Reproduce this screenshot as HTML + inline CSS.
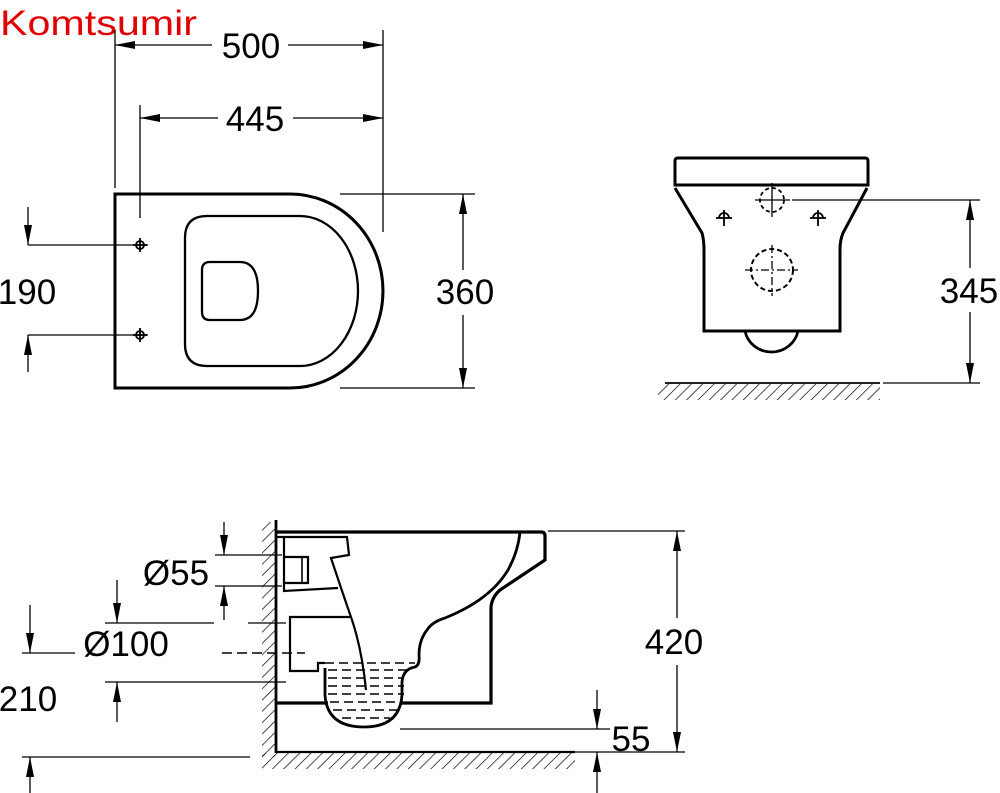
<!DOCTYPE html>
<html><head><meta charset="utf-8"><style>
html,body{margin:0;padding:0;background:#fff;}
svg{display:block;}
text{font-family:"Liberation Sans",Arial,sans-serif;}
</style></head><body>
<svg width="1000" height="793" viewBox="0 0 1000 793" xmlns="http://www.w3.org/2000/svg">
<defs>
<marker id="a" viewBox="0 0 20 8" refX="20" refY="4" markerWidth="20" markerHeight="8" markerUnits="userSpaceOnUse" orient="auto-start-reverse">
<path d="M0,0 L20,4 L0,8 Z" fill="#000"/></marker>
<pattern id="h" width="8" height="8" patternUnits="userSpaceOnUse" patternTransform="rotate(45)">
<line x1="0" y1="0" x2="0" y2="8" stroke="#000" stroke-width="1.4"/></pattern>
</defs>
<text x="0" y="35" font-size="35" fill="#e00000" textLength="197" lengthAdjust="spacingAndGlyphs">Komtsumir</text>

<!-- TOP VIEW -->
<g fill="none" stroke="#000">
<path d="M115,194 H290 A93,97 0 0 1 290,388 H115 Z" stroke-width="3"/>
<path d="M207,216 H300 A58,75 0 0 1 300,366 H207 Q185,366 185,344 V238 Q185,216 207,216 Z" stroke-width="2.3"/>
<path d="M210,262 H240 Q258,262 258,291 Q258,320 240,320 H210 Q202,320 202,312 V270 Q202,262 210,262 Z" stroke-width="2.3"/>
<g stroke-width="1.3">
<line x1="115" y1="30" x2="115" y2="188"/><line x1="383" y1="30" x2="383" y2="232"/>
<line x1="140" y1="105" x2="140" y2="218"/>
<line x1="28" y1="245" x2="148" y2="245"/><line x1="28" y1="335" x2="148" y2="335"/>
<line x1="340" y1="194" x2="475" y2="194"/><line x1="340" y1="388" x2="475" y2="388"/>
<line x1="115" y1="45" x2="212" y2="45" marker-start="url(#a)"/><line x1="288" y1="45" x2="383" y2="45" marker-end="url(#a)"/>
<line x1="140" y1="118" x2="218" y2="118" marker-start="url(#a)"/><line x1="293" y1="118" x2="383" y2="118" marker-end="url(#a)"/>
<line x1="28" y1="207" x2="28" y2="245" marker-end="url(#a)"/><line x1="28" y1="372" x2="28" y2="335" marker-end="url(#a)"/>
<line x1="463" y1="194" x2="463" y2="270" marker-start="url(#a)"/><line x1="463" y1="315" x2="463" y2="388" marker-end="url(#a)"/>
</g>
<g stroke-width="1.8"><circle cx="140" cy="245" r="4"/><line x1="133" y1="245" x2="147" y2="245"/><line x1="140" y1="238" x2="140" y2="252"/>
<circle cx="140" cy="335" r="4"/><line x1="133" y1="335" x2="147" y2="335"/><line x1="140" y1="328" x2="140" y2="342"/></g>
</g>
<text x="251" y="58" font-size="35" text-anchor="middle">500</text>
<text x="255" y="131" font-size="35" text-anchor="middle">445</text>
<text x="27" y="304" font-size="35" text-anchor="middle">190</text>
<text x="465" y="304" font-size="35" text-anchor="middle">360</text>

<!-- FRONT VIEW -->
<g fill="none" stroke="#000">
<path d="M678,158 H865 Q868,158 868,161 V185 H675 V161 Q675,158 678,158 Z" stroke-width="3"/>
<path d="M675,188 L702,233 Q704,240 704,250 V331 H840 V250 Q840,240 843,233 L867,188" stroke-width="3"/>
<path d="M745,331 A27,26 0 0 0 798,331" stroke-width="2.8"/>
<circle cx="772" cy="200" r="12" stroke-width="1.8" stroke-dasharray="4,3"/>
<circle cx="772" cy="270" r="21" stroke-width="2" stroke-dasharray="5,3"/>
<g stroke-width="1.3">
<line x1="755" y1="200" x2="790" y2="200"/><line x1="772" y1="183" x2="772" y2="217"/>
<line x1="745" y1="270" x2="798" y2="270" stroke-dasharray="8,3,2,3"/><line x1="772" y1="245" x2="772" y2="296" stroke-dasharray="8,3,2,3"/>
<line x1="792" y1="200" x2="980" y2="200"/><line x1="883" y1="383" x2="980" y2="383"/>
<line x1="970" y1="200" x2="970" y2="268" marker-start="url(#a)"/><line x1="970" y1="312" x2="970" y2="383" marker-end="url(#a)"/>
</g>
<g stroke-width="1.8">
<path d="M719,218 A5,5 0 0 1 729,218"/><line x1="716" y1="218" x2="732" y2="218"/><line x1="724" y1="210" x2="724" y2="226"/>
<path d="M813,218 A5,5 0 0 1 823,218"/><line x1="810" y1="218" x2="826" y2="218"/><line x1="818" y1="210" x2="818" y2="226"/>
</g>
<line x1="665" y1="383" x2="880" y2="383" stroke-width="1.8"/>
</g>
<rect x="658" y="384" width="222" height="16" fill="url(#h)"/>
<text x="969" y="303" font-size="35" text-anchor="middle">345</text>

<!-- SIDE VIEW -->
<rect x="262" y="522" width="13" height="235" fill="url(#h)"/>
<rect x="262" y="753" width="313" height="16" fill="url(#h)"/>
<g fill="none" stroke="#000">
<line x1="276" y1="520" x2="276" y2="753" stroke-width="2.8"/>
<line x1="276" y1="752" x2="575" y2="752" stroke-width="2.2"/>
<path d="M276,532 H541 Q545,532 545,536 V560 L500,590 Q492,597 491,607 V703 H400" stroke-width="3.2"/>
<path d="M328,703 H276" stroke-width="3.2"/>
<path d="M325,668 V695 Q327,727 364,727 Q400,727 402,695 V682 Q403,669 415,667 Q420,665 419,655 Q419,640 427,630 Q432,622 445,618 Q490,600 508,570 Q518,552 520,532" stroke-width="2.8"/>
<path d="M284,537 V591 L338,588" stroke-width="2.2"/>
<path d="M276,537 H284" stroke-width="2.2"/>
<path d="M284,537 H347 L349,555 L331,558 Q345,600 352,620 Q362,650 366,690" stroke-width="2.2"/>
<path d="M285,557 H308 V583 H285" stroke-width="2.2"/>
<line x1="302" y1="558" x2="302" y2="582" stroke-width="1.6"/>
<path d="M350,617 H290 V671 H318 V663 H325" stroke-width="2.2"/>
<g stroke-width="1.4" stroke-dasharray="9,5">
<line x1="325" y1="663" x2="415" y2="663"/><line x1="328" y1="670" x2="410" y2="670"/>
<line x1="328" y1="678" x2="404" y2="678"/><line x1="328" y1="686" x2="404" y2="686"/>
<line x1="328" y1="694" x2="404" y2="694"/><line x1="330" y1="702" x2="402" y2="702"/>
<line x1="333" y1="710" x2="398" y2="710"/><line x1="342" y1="718" x2="390" y2="718"/>
<line x1="222" y1="653" x2="305" y2="653" stroke-dasharray="10,5"/>
</g>
<g stroke-width="1.3">
<line x1="215" y1="555" x2="282" y2="555"/><line x1="215" y1="586" x2="282" y2="586"/>
<line x1="224" y1="522" x2="224" y2="555" marker-end="url(#a)"/><line x1="224" y1="620" x2="224" y2="586" marker-end="url(#a)"/>
<line x1="105" y1="623" x2="214" y2="623"/><line x1="248" y1="623" x2="286" y2="623"/>
<line x1="105" y1="682" x2="286" y2="682"/>
<line x1="117" y1="580" x2="117" y2="623" marker-end="url(#a)"/><line x1="117" y1="722" x2="117" y2="682" marker-end="url(#a)"/>
<line x1="22" y1="653" x2="75" y2="653"/>
<line x1="30" y1="605" x2="30" y2="653" marker-end="url(#a)"/>
<line x1="22" y1="757" x2="250" y2="757"/>
<line x1="30" y1="793" x2="30" y2="757" marker-end="url(#a)"/>
<line x1="548" y1="531" x2="685" y2="531"/><line x1="575" y1="752" x2="685" y2="752"/>
<line x1="677" y1="531" x2="677" y2="618" marker-start="url(#a)"/><line x1="677" y1="665" x2="677" y2="752" marker-end="url(#a)"/>
<line x1="400" y1="729" x2="610" y2="729"/>
<line x1="597" y1="690" x2="597" y2="729" marker-end="url(#a)"/><line x1="597" y1="793" x2="597" y2="752" marker-end="url(#a)"/>
</g>
</g>
<text x="176" y="585" font-size="35" text-anchor="middle">Ø55</text>
<text x="126" y="656" font-size="35" text-anchor="middle">Ø100</text>
<text x="28" y="711" font-size="35" text-anchor="middle">210</text>
<text x="674" y="654" font-size="35" text-anchor="middle">420</text>
<text x="631" y="751" font-size="35" text-anchor="middle">55</text>
</svg>
</body></html>
